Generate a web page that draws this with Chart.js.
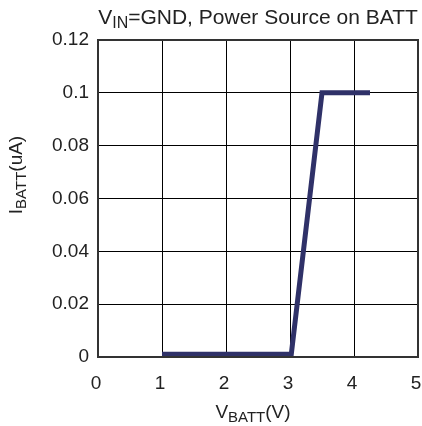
<!DOCTYPE html>
<html><head><meta charset="utf-8">
<script src="https://cdn.jsdelivr.net/npm/chart.js@4/dist/chart.umd.min.js"></script>
<style>html,body{margin:0;padding:0;background:#fff}#wrap{width:422px;height:426px;position:relative}</style>
</head><body><div id="wrap"><canvas id="c"></canvas></div>
<script>
const vBatt = [1, 3.02, 3.5, 4.25];
const iBatt = [0.001, 0.001, 0.1, 0.1];
const xTicks = [0, 1, 2, 3, 4, 5];
const yTicks = [0, 0.02, 0.04, 0.06, 0.08, 0.1, 0.12];
const titleParts = [["V", false], ["IN", true], ["=GND, Power Source on BATT", false]];
const xTitleParts = [["V", false], ["BATT", true], ["(V)", false]];
const yTitleParts = [["I", false], ["BATT", true], ["(uA)", false]];

const FAM = "'Liberation Sans', Arial, sans-serif";
const TXT = '#222';

function drawParts(ctx, parts, cx, baseline, size, subSize, subShift) {
  const main = size + 'px ' + FAM, sub = subSize + 'px ' + FAM;
  let w = 0;
  parts.forEach(([t, s]) => { ctx.font = s ? sub : main; w += ctx.measureText(t).width; });
  let x = cx - w / 2;
  ctx.textAlign = 'left'; ctx.textBaseline = 'alphabetic'; ctx.fillStyle = TXT;
  parts.forEach(([t, s]) => {
    ctx.font = s ? sub : main;
    ctx.fillText(t, x, baseline + (s ? subShift : 0));
    x += ctx.measureText(t).width;
  });
}

const decor = {
  id: 'decor',
  afterDraw(chart) {
    const ctx = chart.ctx, a = chart.chartArea;
    ctx.save();
    ctx.strokeStyle = '#333'; ctx.lineWidth = 2;
    ctx.strokeRect(a.left, a.top, a.right - a.left, a.bottom - a.top);
    const cx = (a.left + a.right) / 2;
    drawParts(ctx, titleParts, cx, 24, 21, 16, 4);
    drawParts(ctx, xTitleParts, 253, 418, 19, 15, 4);
    ctx.translate(22, 175);
    ctx.rotate(-Math.PI / 2);
    drawParts(ctx, yTitleParts, 0, 0, 19, 15, 4);
    ctx.restore();
  }
};

new Chart(document.getElementById('c'), {
  type: 'line',
  data: {
    datasets: [{
      data: vBatt.map((v, i) => ({ x: v, y: iBatt[i] })),
      borderColor: '#2f3168',
      borderWidth: 5,
      pointRadius: 0,
      tension: 0,
      fill: false
    }]
  },
  options: {
    responsive: true,
    maintainAspectRatio: false,
    animation: false,
    events: [],
    layout: { padding: { left: 0, top: 40, right: 4, bottom: 0 } },
    plugins: { legend: { display: false }, tooltip: { enabled: false }, title: { display: false } },
    scales: {
      x: {
        type: 'linear', min: 0, max: 5,
        afterBuildTicks: s => { s.ticks = xTicks.map(v => ({ value: v })); },
        afterFit: s => { s.height = 69; s.paddingLeft = 0; s.paddingRight = 0; },
        grid: { color: '#000', lineWidth: 1, drawTicks: false },
        border: { display: false },
        ticks: { padding: 15, labelOffset: -2, color: TXT, font: { family: FAM, size: 19 }, maxRotation: 0, callback: v => String(v) }
      },
      y: {
        type: 'linear', min: 0, max: 0.12,
        afterBuildTicks: s => { s.ticks = yTicks.map(v => ({ value: v })); },
        afterFit: s => { s.width = 98; s.paddingTop = 0; s.paddingBottom = 0; },
        grid: { color: '#000', lineWidth: 1, drawTicks: false },
        border: { display: false },
        ticks: { padding: 9, color: TXT, font: { family: FAM, size: 19 }, callback: v => String(v) }
      }
    }
  },
  plugins: [decor]
});
</script>
</body></html>
